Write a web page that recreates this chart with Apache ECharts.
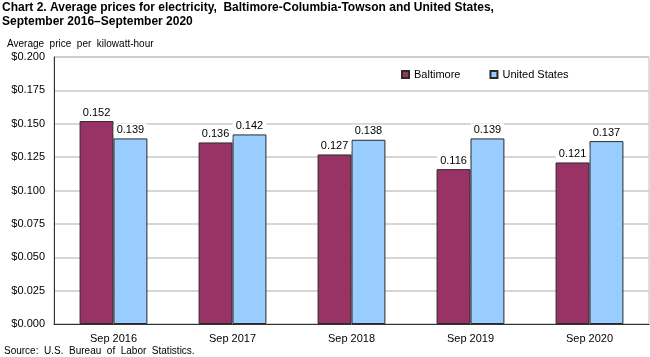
<!DOCTYPE html>
<html>
<head>
<meta charset="utf-8">
<script src="https://cdn.jsdelivr.net/npm/echarts@6/dist/echarts.min.js"></script>
<style>html,body{margin:0;padding:0;background:#fff}#c{width:650px;height:357px}</style>
</head>
<body>
<div id="c"></div>
<script>
const categories = ['Sep 2016', 'Sep 2017', 'Sep 2018', 'Sep 2019', 'Sep 2020'];
const baltimore = [0.152, 0.136, 0.127, 0.116, 0.121];
const unitedStates = [0.139, 0.142, 0.138, 0.139, 0.137];
const seriesNames = ['Baltimore', 'United States'];

const FONT = '"Liberation Sans", Arial, sans-serif';
const chart = echarts.init(document.getElementById('c'), null, {renderer: 'canvas'});
const labelCfg = {
  show: true, position: 'top', distance: 3,
  formatter: p => p.value.toFixed(3),
  color: '#000', fontFamily: FONT, fontSize: 11,
  backgroundColor: '#fff', padding: [1, 3, 0, 3]
};
chart.setOption({
  animation: false,
  backgroundColor: '#fff',
  title: [
    {text: 'Chart 2. Average prices for electricity,  Baltimore-Columbia-Towson and United States,\nSeptember 2016\u2013September 2020',
     left: 2, top: 1, padding: 0, textStyle: {fontFamily: FONT, fontSize: 12, fontWeight: 'bold', color: '#000', lineHeight: 14}},
    {text: 'Average  price  per  kilowatt-hour', left: 7, top: 39, padding: 0,
     textStyle: {fontFamily: FONT, fontSize: 10, fontWeight: 'normal', color: '#000'}},
    {text: 'Source:  U.S.  Bureau  of  Labor  Statistics.', left: 4, top: 346, padding: 0,
     textStyle: {fontFamily: FONT, fontSize: 10, fontWeight: 'normal', color: '#000'}}
  ],
  legend: {
    data: seriesNames, left: 401, top: 69, padding: 0, itemWidth: 7, itemHeight: 7, itemGap: 29,
    icon: 'rect',
    textStyle: {fontFamily: FONT, fontSize: 11, color: '#000'}
  },
  grid: {left: 54, right: 1, top: 57, bottom: 33, show: true, borderColor: '#bdbdbd', borderWidth: 1, containLabel: false},
  xAxis: {
    type: 'category', data: categories,
    axisLine: {lineStyle: {color: '#333', width: 1}},
    axisTick: {show: false},
    axisLabel: {fontFamily: FONT, fontSize: 11, color: '#000', margin: 9}
  },
  yAxis: {
    type: 'value', min: 0, max: 0.2, interval: 0.025,
    axisLine: {show: true, lineStyle: {color: '#333', width: 1}},
    axisTick: {show: false},
    splitLine: {lineStyle: {color: '#c8c8c8', width: 1.5}},
    axisLabel: {fontFamily: FONT, fontSize: 11, color: '#000', margin: 9,
      formatter: v => '$' + v.toFixed(3)}
  },
  series: [
    {name: seriesNames[0], type: 'bar', data: baltimore, barGap: '0%', barCategoryGap: '43%',
     itemStyle: {color: '#993366', borderColor: '#2a2a2a', borderWidth: 1}, label: labelCfg},
    {name: seriesNames[1], type: 'bar', data: unitedStates,
     itemStyle: {color: '#99ccff', borderColor: '#2a2a2a', borderWidth: 1}, label: labelCfg}
  ]
});
</script>
</body>
</html>
